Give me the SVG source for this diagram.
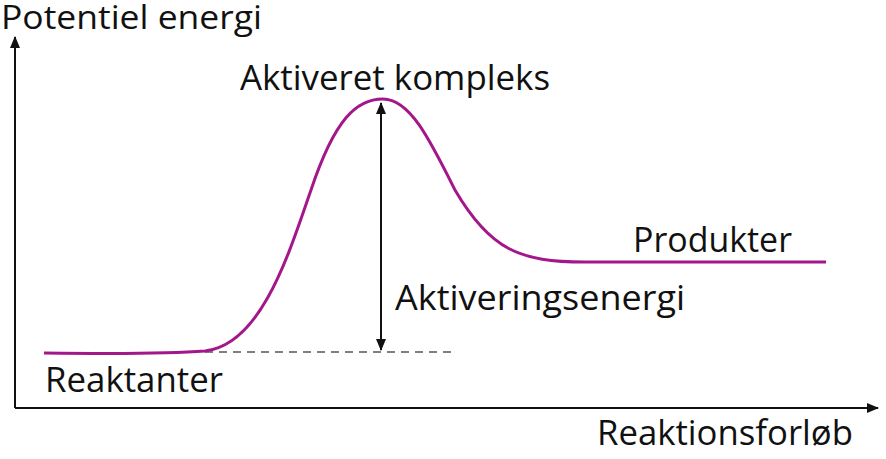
<svg xmlns="http://www.w3.org/2000/svg" width="886" height="459" viewBox="0 0 886 459">
<style>
text{font-family:"Open Sans","Noto Sans","DejaVu Sans",sans-serif;font-size:35px;fill:#111}
.ax{stroke:#111;stroke-width:2;fill:none}
</style>
<defs>
<marker id="ah" viewBox="0 0 12 10" refX="11" refY="5" markerWidth="12" markerHeight="10" markerUnits="userSpaceOnUse" orient="auto-start-reverse"><path d="M0,0 L12,5 L0,10 Z" fill="#111"/></marker>
</defs>
<g id="connectors">
<path class="ax" d="M15,408 V37" marker-end="url(#ah)"/>
<path class="ax" d="M15,408 H878" marker-end="url(#ah)"/>
<path d="M205,352 H455" stroke="#555" stroke-width="1.5" stroke-dasharray="8,6" fill="none"/>
<path class="ax" d="M381,350 V103" marker-start="url(#ah)" marker-end="url(#ah)"/>
</g>
<g id="curve">
<path d="M44,353 C120,354 180,353 205,351 C262,345 290,250 311,190 C335,118 357,99 383,99 C410,99 430,140 455,190 C490,250 520,262 585,262 L826,262" stroke="#a3178a" stroke-width="3" fill="none"/>
</g>
<g id="labels">
<text x="1" y="29" style="font-size:32px" textLength="261" lengthAdjust="spacingAndGlyphs">Potentiel energi</text>
<text x="240" y="90" textLength="310" lengthAdjust="spacingAndGlyphs">Aktiveret kompleks</text>
<text x="633" y="252" textLength="159" lengthAdjust="spacingAndGlyphs">Produkter</text>
<text x="395" y="310" textLength="290" lengthAdjust="spacingAndGlyphs">Aktiveringsenergi</text>
<text x="45" y="392" textLength="178" lengthAdjust="spacingAndGlyphs">Reaktanter</text>
<text x="597" y="445" textLength="256" lengthAdjust="spacingAndGlyphs">Reaktionsforløb</text>
</g>
</svg>
